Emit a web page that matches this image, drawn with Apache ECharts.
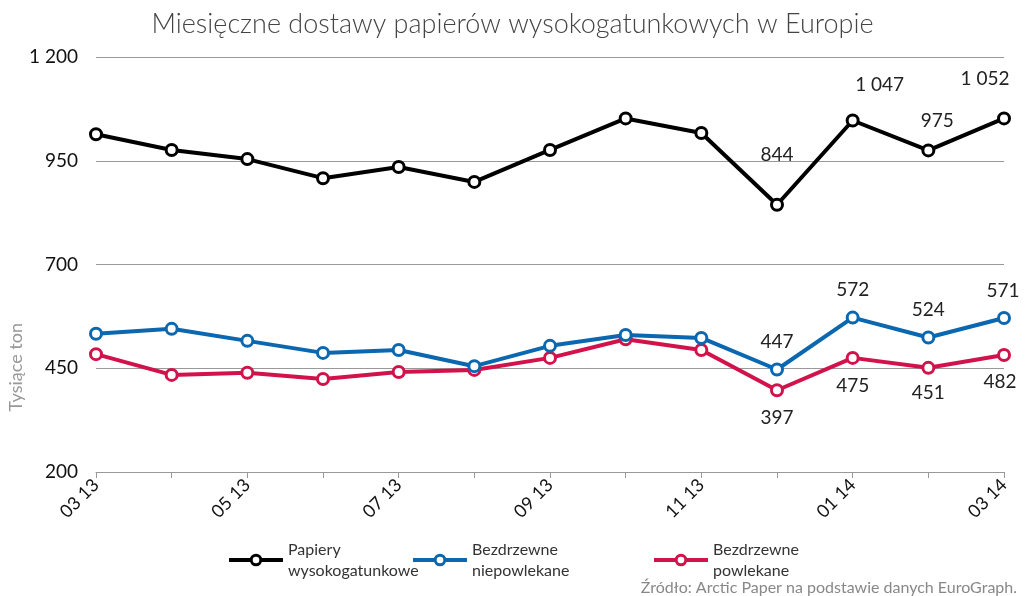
<!DOCTYPE html>
<html><head><meta charset="utf-8">
<script src="https://cdn.jsdelivr.net/npm/echarts@6/dist/echarts.min.js"></script>
<style>html,body{margin:0;padding:0;background:#fff}#c{width:1025px;height:596px}</style>
</head><body><div id="c"></div>
<script>
var categories = ['03 13','04 13','05 13','06 13','07 13','08 13','09 13','10 13','11 13','12 13','01 14','02 14','03 14'];
var papiery = [1014, 976, 954, 908, 935, 899, 976, 1052, 1017, 844, 1047, 975, 1052];
var niepowlekane = [533, 545, 516, 487, 494, 455, 504, 530, 523, 447, 572, 524, 571];
var powlekane = [484, 434, 439, 424, 441, 446, 475, 520, 494, 397, 475, 451, 482];
var seriesNames = ['Papiery\nwysokogatunkowe', 'Bezdrzewne\nniepowlekane', 'Bezdrzewne\npowlekane'];
var yTicks = [200, 450, 700, 950, 1200];

var FONT = 'Lato';
function fmt(v){ return String(v).replace(/\B(?=(\d{3})+(?!\d))/g, ' '); }

// label placement for labelled points (index: [position, dx, dy])
var blackLab = {9:['top',0,-22], 10:['top',27,-8], 11:['top',9,-2], 12:['top',-19,-12]};
var blueLab = {9:['top',0,0], 10:['top',0,0], 11:['top',0,0], 12:['top',-1,0]};
var redLab = {9:['bottom',0,0], 10:['bottom',0,0], 11:['bottom',0,-2], 12:['bottom',-4,-1]};

function build(vals, labs){
  return vals.map(function(v,i){
    var d = {value: v};
    if (labs[i]) {
      d.label = {show:true, position: labs[i][0], offset:[labs[i][1], labs[i][2]], distance: 11,
        formatter: function(p){ return fmt(p.value); }, fontSize: 19, color:'#222', fontFamily: FONT};
    }
    return d;
  });
}

var colors = ['#000000', '#0a67b0', '#d2134b'];
var datas = [papiery, niepowlekane, powlekane];
var labsAll = [blackLab, blueLab, redLab];
var series = datas.map(function(vals, k){
  return {
    name: seriesNames[k], type:'line', data: build(vals, labsAll[k]),
    symbol:'circle', symbolSize: 11, showAllSymbol: true,
    lineStyle:{color: colors[k], width: 4},
    itemStyle:{color:'#fff', borderColor: colors[k], borderWidth: 3},
    emphasis:{disabled:true}, z: 3 - k + 2
  };
});

function legendAt(name, left, k){
  return {data:[{name:name, itemStyle:{color:'#fff', borderColor: colors[k], borderWidth: 3}, lineStyle:{width:4, color: colors[k]}}],
    left: left, top: 534, itemWidth: 54, itemHeight: 12, itemGap: 6,
    textStyle:{fontSize:16, color:'#333', fontFamily: FONT, lineHeight: 21}, selectedMode:false};
}

var chart = echarts.init(document.getElementById('c'), null, {renderer:'canvas'});
chart.setOption({
  animation:false,
  title:{text:'Miesięczne dostawy papierów wysokogatunkowych w Europie', left:'center', top:6,
    textStyle:{fontSize:27, fontWeight:300, color:'#444', fontFamily: FONT}},
  legend:[legendAt(seriesNames[0], 222, 0), legendAt(seriesNames[1], 406, 1), legendAt(seriesNames[2], 647, 2)],
  grid:{left:96, right:21, top:57, bottom:124, containLabel:false},
  xAxis:{type:'category', data: categories, boundaryGap:false,
    axisLine:{lineStyle:{color:'#999', width:1}},
    axisTick:{show:true, interval:0, length:6, lineStyle:{color:'#999'}},
    axisLabel:{interval:1, rotate:45, fontSize:18, color:'#111', fontFamily: FONT, margin:10}},
  yAxis:{type:'value', min: yTicks[0], max: yTicks[yTicks.length-1], interval: 250,
    axisLine:{show:false}, axisTick:{show:false},
    splitLine:{lineStyle:{color:'#999', width:1}},
    axisLabel:{fontSize:19, color:'#111', fontFamily: FONT, margin:18, formatter: function(v){ return fmt(v); }}},
  graphic:[
    {type:'text', left: 7, top: 323, rotation: Math.PI/2, style:{text:'Tysiące ton', fontSize:18, fill:'#999', fontFamily: FONT}},
    {type:'text', right: 8, top: 580, style:{text:'Źródło: Arctic Paper na podstawie danych EuroGraph.', fontSize:16, fill:'#888', fontFamily: FONT}}
  ],
  series: series
});
</script></body></html>
